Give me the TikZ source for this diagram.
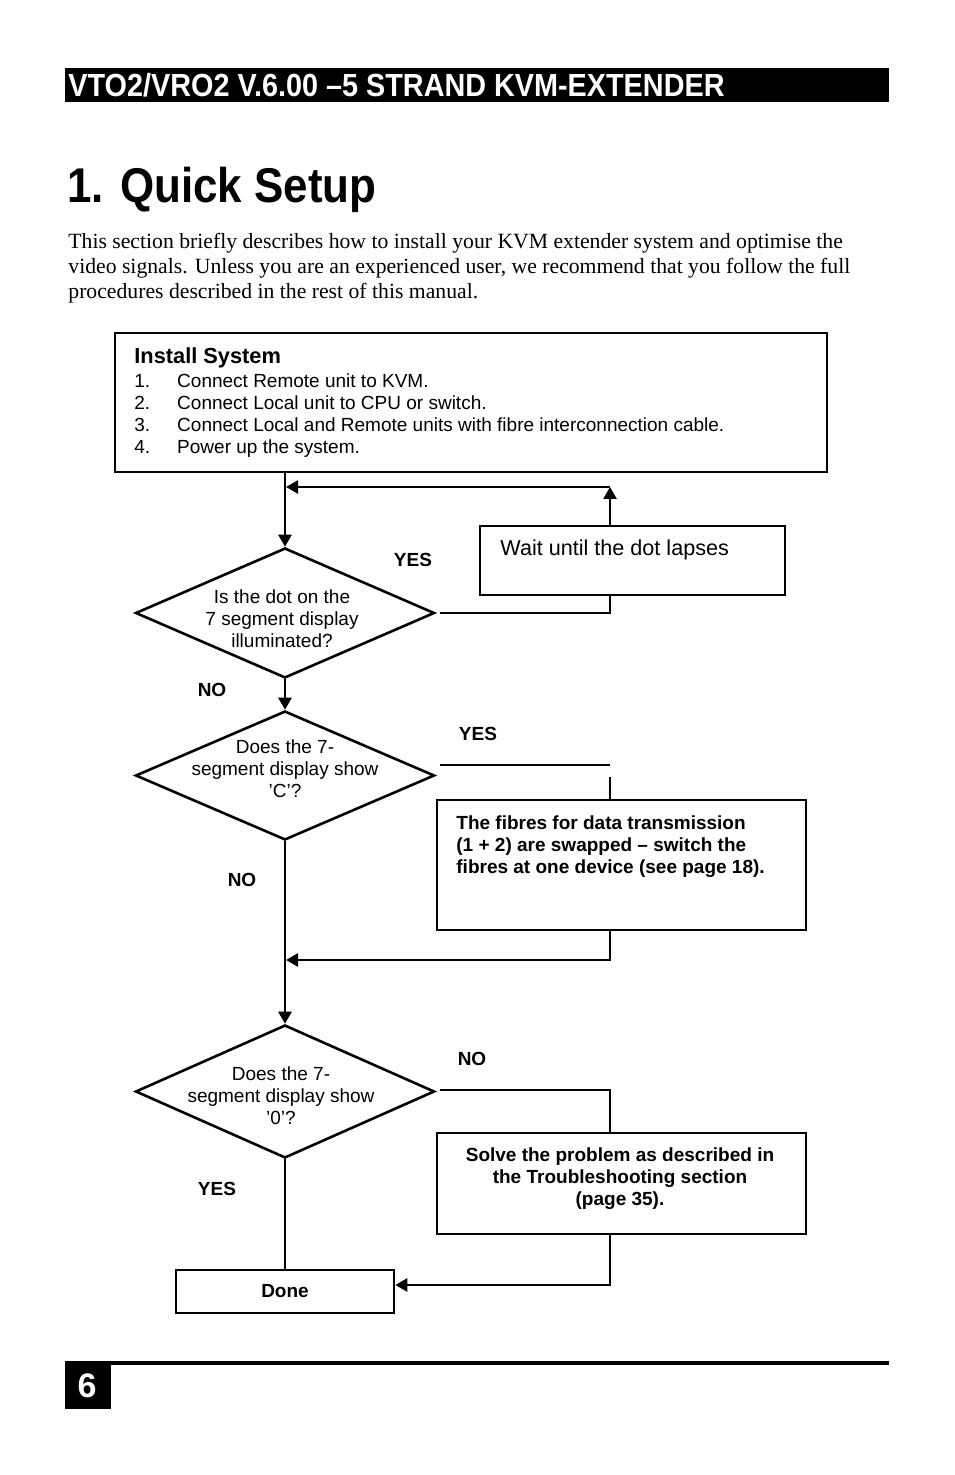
\documentclass[tikz,border=0pt]{standalone}
\usepackage{fontspec}
\setmainfont{Liberation Serif}
\setsansfont{Liberation Sans}
\newfontfamily\titlefont{Liberation Sans}[FakeStretch=0.9,Ligatures=TeX]
\usetikzlibrary{shapes.geometric,arrows.meta,positioning,calc}

\tikzset{
  box/.style={draw,line width=1.3pt,inner sep=0pt},
  decision/.style={draw,diamond,line width=1.3pt,inner sep=0pt},
  link/.style={line width=1.3pt},
  arr/.style={line width=1.3pt,-{Triangle[length=6pt,width=6.5pt]}},
  answer/.style={font=\sffamily\bfseries\fontsize{9.5}{11}\selectfont},
  small/.style={font=\sffamily\fontsize{9.5}{11}\selectfont},
}

\begin{document}
\begin{tikzpicture}[x=0.5pt,y=-0.5pt]
  \useasboundingbox (0,0) rectangle (954,1475);

  % Header
  \fill (65,68) rectangle (889,102);
  \node[anchor=west,text=white,inner sep=0pt,font=\titlefont\bfseries\fontsize{16}{17}\selectfont] (head) at (68,85) {VTO2/VRO2 V.6.00 --5 STRAND KVM-EXTENDER};
  \node[anchor=west,inner sep=0pt,font=\titlefont\bfseries\fontsize{24.4}{28}\selectfont] (title) at (67,190) {1. Quick Setup};
  \node[anchor=north west,inner sep=0pt,align=left,font=\fontsize{10.85}{12.5}\selectfont] (intro) at (68,233)
    {This section briefly describes how to install your KVM extender system and optimise the\\
     video signals. Unless you are an experienced user, we recommend that you follow the full\\
     procedures described in the rest of this manual.};

  % Install
  \node[box,minimum width=356pt,minimum height=69.5pt] (install) at (471,402.5) {};
  \node[anchor=north west,inner sep=0pt,align=left,small] (steps) at (134,347)
    {{\bfseries\fontsize{10.9}{12}\selectfont Install System}\\[1pt]
     1.\hspace{13.5pt}Connect Remote unit to KVM.\\
     2.\hspace{13.5pt}Connect Local unit to CPU or switch.\\
     3.\hspace{13.5pt}Connect Local and Remote units with fibre interconnection cable.\\
     4.\hspace{13.5pt}Power up the system.};

  % Wait
  \node[box,minimum width=152.5pt,minimum height=34.5pt] (wait) at (632.5,560.5) {};
  \node[anchor=west,inner sep=0pt,font=\sffamily\fontsize{10.8}{12}\selectfont] (waittext) at (500,550) {Wait until the dot lapses};

  % Decisions
  \node[decision,minimum width=149.5pt,minimum height=65pt] (d1) at (285,613) {};
  \node[small,align=center,inner sep=0pt] (q1) at (282,619) {Is the dot on the\\7 segment display\\illuminated?};
  \node[decision,minimum width=149.5pt,minimum height=64.5pt] (d2) at (285,775.5) {};
  \node[small,align=center,inner sep=0pt] (q2) at (285,769) {Does the 7-\\segment display show\\'C'?};
  \node[decision,minimum width=149.5pt,minimum height=66.5pt] (d3) at (285,1091.5) {};
  \node[small,align=center,inner sep=0pt] (q3) at (281,1096) {Does the 7-\\segment display show\\'0'?};

  % Fibres
  \node[box,minimum width=184.5pt,minimum height=65pt] (fibre) at (621.5,865) {};
  \node[anchor=north west,inner sep=0pt,align=left,answer] (fibretext) at (456,815)
    {The fibres for data transmission\\(1 + 2) are swapped -- switch the\\fibres at one device (see page 18).};

  % Solve
  \node[box,minimum width=184.5pt,minimum height=50.5pt] (solve) at (621.5,1183.5) {};
  \node[answer,align=center,inner sep=0pt] (solvetext) at (620,1179)
    {Solve the problem as described in\\the Troubleshooting section\\(page 35).};

  % Done
  \node[box,minimum width=109pt,minimum height=21.5pt,answer] (done) at (285,1291.5) {Done};

  % Connectors
  \coordinate (loopR) at (610,487);
  \coordinate (yesC) at (610,765);
  \coordinate (back) at (610,960);
  \coordinate (noC) at (610,1090);
  \coordinate (doneIn) at (610,1285);
  \draw[arr] (d1.north |- install.south) -- (d1.north);
  \draw[arr] (loopR |- wait.north) -- (loopR);
  \draw[arr] (loopR) -- ($(loopR -| d1.north)+(1,0)$);
  \draw[link] ($(d1.east)+(4,0)$) -| (loopR |- wait.south);
  \draw[arr] (d1.south) -- (d2.north);
  \draw[link] ($(yesC -| d2.east)+(4,0)$) -- (yesC);
  \draw[link] ($(yesC)+(0,12)$) -- (yesC |- fibre.north);
  \draw[arr] (back |- fibre.south) |- ($(back -| d2.south)+(1,0)$);
  \draw[arr] (d2.south) -- (d3.north);
  \draw[link] ($(noC -| d3.east)+(4,0)$) -- (noC) -- (noC |- solve.north);
  \draw[arr] (doneIn |- solve.south) |- (doneIn -| done.east);
  \draw[link] (d3.south) -- (done.north);

  % Answers
  \node[answer] (yes1) at (413,560) {YES};
  \node[answer] (no1) at (212,690) {NO};
  \node[answer] (yes2) at (478,734) {YES};
  \node[answer] (no2) at (242,880) {NO};
  \node[answer] (no3) at (472,1059) {NO};
  \node[answer] (yes3) at (217,1189) {YES};

  % Footer
  \draw[line width=1.6pt] (65,1363) -- (889,1363);
  \fill (65,1363) rectangle (111,1409);
  \node[text=white,font=\sffamily\bfseries\fontsize{17}{20}\selectfont] (page) at (87,1386) {6};
\end{tikzpicture}
\end{document}
